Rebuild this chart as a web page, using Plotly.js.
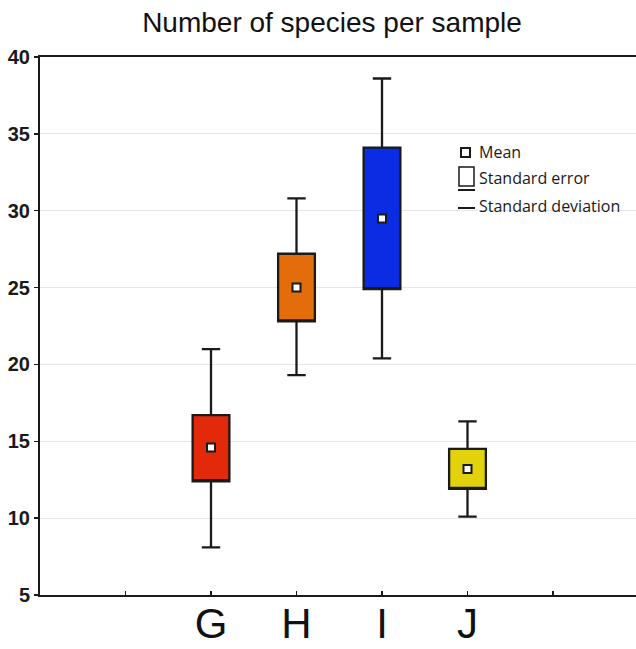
<!DOCTYPE html>
<html>
<head>
<meta charset="utf-8">
<script src="https://cdn.plot.ly/plotly-3.0.1.min.js"></script>
<style>html,body{margin:0;padding:0;background:#fff;}#chart{width:636px;height:649px;}</style>
</head>
<body>
<div id="chart"></div>
<script>
// Data
const categories = ['G', 'H', 'I', 'J'];
const means      = [14.6, 25.0, 29.5, 13.2];
const seLower    = [12.4, 22.8, 24.9, 11.9];
const seUpper    = [16.7, 27.2, 34.1, 14.5];
const sdLower    = [8.1, 19.3, 20.4, 10.1];
const sdUpper    = [21.0, 30.8, 38.6, 16.3];
const colors     = ['#e22a0a', '#e36c0b', '#0a2de3', '#e2d20c'];
const yTicks     = [5, 10, 15, 20, 25, 30, 35, 40];

// category positions on a numeric axis: slots 1..6, categories in 2..5
const positions = categories.map((c, i) => i + 2);
const tickVals = [1, 2, 3, 4, 5, 6];
const tickText = ['', ...categories, ''];

const traces = categories.map((c, i) => ({
  type: 'box',
  x: [positions[i]],
  q1: [seLower[i]],
  median: [seLower[i]],
  q3: [seUpper[i]],
  lowerfence: [sdLower[i]],
  upperfence: [sdUpper[i]],
  width: 0.43,
  whiskerwidth: 0.5,
  fillcolor: colors[i],
  line: {color: '#1a1a1a', width: 2.3},
  hoverinfo: 'skip',
  showlegend: false
}));

traces.push({
  type: 'scatter',
  mode: 'markers',
  x: positions,
  y: means,
  marker: {symbol: 'square', size: 8, color: '#ffffff', line: {color: '#1a1a1a', width: 2}},
  hoverinfo: 'skip',
  showlegend: false
});

// legend helpers in paper coordinates (plot area: x 40..636, y 57..595)
const px = v => (v - 40) / 596;
const py = v => (595 - v) / 538;

const shapes = [
  {type: 'rect', xref: 'paper', yref: 'paper', x0: px(461), x1: px(470), y0: py(157), y1: py(148),
   line: {color: '#1a1a1a', width: 2}, fillcolor: '#ffffff'},
  {type: 'rect', xref: 'paper', yref: 'paper', x0: px(459), x1: px(474), y0: py(186), y1: py(167),
   line: {color: '#1a1a1a', width: 1.5}, fillcolor: '#ffffff'},
  {type: 'line', xref: 'paper', yref: 'paper', x0: px(458), x1: px(475), y0: py(190), y1: py(190),
   line: {color: '#1a1a1a', width: 2}},
  {type: 'line', xref: 'paper', yref: 'paper', x0: px(458), x1: px(475), y0: py(208), y1: py(208),
   line: {color: '#1a1a1a', width: 2}}
];

const legendFont = {family: 'Open Sans, Noto Sans, sans-serif', size: 16, color: '#1a1a1a'};
const annotations = [
  {text: 'Mean', x: px(477), y: py(152)},
  {text: 'Standard error', x: px(477), y: py(178)},
  {text: 'Standard deviation', x: px(477), y: py(206)}
].map(a => Object.assign({xref: 'paper', yref: 'paper', xanchor: 'left', yanchor: 'middle',
  showarrow: false, font: legendFont}, a));

const layout = {
  width: 636, height: 649,
  margin: {l: 40, r: 0, t: 57, b: 54},
  paper_bgcolor: '#ffffff',
  plot_bgcolor: '#ffffff',
  title: {
    text: 'Number of species per sample',
    font: {family: 'Liberation Sans, Arial, sans-serif', size: 28, color: '#111'},
    x: 332 / 636, xanchor: 'center', xref: 'container',
    y: 1 - 22 / 649, yanchor: 'middle', yref: 'container'
  },
  xaxis: {
    range: [0, 596 / 85.5],
    tickmode: 'array', tickvals: tickVals, ticktext: tickText,
    ticks: 'inside', ticklen: 4, tickwidth: 1.5, tickcolor: '#1a1a1a',
    showline: true, linecolor: '#1a1a1a', linewidth: 2, mirror: true,
    showgrid: false, zeroline: false,
    ticklabelstandoff: -9,
    tickfont: {family: 'Liberation Sans, Arial, sans-serif', size: 42, color: '#111'},
    fixedrange: true
  },
  yaxis: {
    range: [5, 40],
    tickmode: 'array', tickvals: yTicks,
    ticks: 'outside', ticklen: 4, tickwidth: 1.5, tickcolor: '#1a1a1a',
    showline: true, linecolor: '#1a1a1a', linewidth: 2,
    showgrid: true, gridcolor: '#e6e6e6', gridwidth: 1,
    zeroline: false,
    tickfont: {family: 'Liberation Sans, Arial, sans-serif', size: 20, color: '#1a1a1a', weight: 'bold'},
    fixedrange: true
  },
  shapes: shapes,
  annotations: annotations,
  showlegend: false
};

Plotly.newPlot('chart', traces, layout, {displayModeBar: false, staticPlot: true});
</script>
</body>
</html>
